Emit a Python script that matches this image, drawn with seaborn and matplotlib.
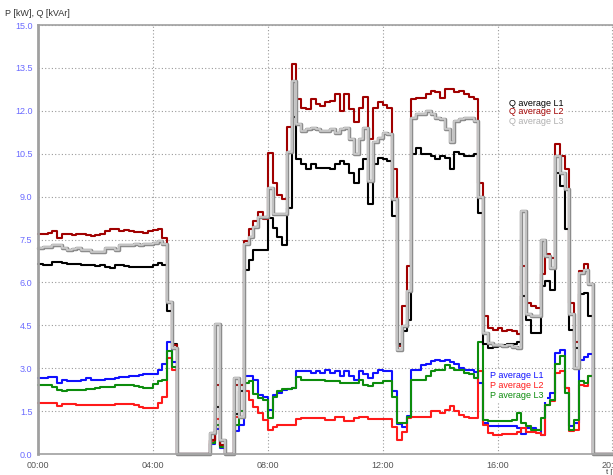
import numpy as np
import pandas as pd
import seaborn as sns
import matplotlib
matplotlib.use('Agg')
import matplotlib.pyplot as plt
import matplotlib.patheffects as pe
from matplotlib.patches import Rectangle


# 10-minute averages from 00:00, one value per interval
q_l1 = [6.63, 6.60, 6.60, 6.70, 6.73, 6.68, 6.65, 6.65, 6.65, 6.62, 6.60, 6.60,
        6.58, 6.60, 6.55, 6.50, 6.60, 6.60, 6.58, 6.55, 6.55, 6.55, 6.55, 6.55,
        6.60, 6.67, 6.62, 5.00, 3.86, 0, 0, 0, 0, 0, 0, 0,
        0.50, 1.65, 0.30, 0, 0, 1.40, 2.20, 6.45, 6.80, 7.15, 7.15, 7.15,
        8.25, 7.90, 7.60, 7.30, 8.60, 11.80, 10.30, 10.13, 9.95, 10.13, 10.00, 10.00,
        10.00, 9.95, 10.13, 10.25, 10.13, 9.84, 9.49, 9.95, 10.30, 8.73, 10.13, 10.36,
        10.30, 10.25, 8.32, 3.83, 4.30, 4.70, 10.48, 10.70, 10.48, 10.48, 10.42, 10.30,
        10.42, 10.35, 9.95, 10.55, 10.48, 10.42, 10.42, 10.48, 8.44, 3.83, 3.71, 3.75,
        3.80, 3.80, 3.85, 3.85, 3.90, 5.52, 4.70, 4.23, 4.23, 5.87, 6.04, 5.75,
        9.84, 9.37, 7.85, 4.35, 3.71, 5.58, 5.64, 4.82,
        0, 0, 0, 0, 0, 0, 0, 0]

q_l2 = [7.70, 7.70, 7.72, 7.80, 7.55, 7.68, 7.70, 7.65, 7.70, 7.68, 7.65, 7.62,
        7.65, 7.70, 7.80, 7.85, 7.85, 7.80, 7.82, 7.78, 7.75, 7.75, 7.72, 7.78,
        7.82, 7.85, 7.55, 5.30, 3.80, 0, 0, 0, 0, 0, 0, 0,
        0.50, 2.40, 0.30, 0, 0, 2.40, 2.40, 7.45, 7.85, 8.15, 8.45, 8.20,
        10.54, 9.46, 9.04, 8.90, 11.45, 13.65, 12.40, 12.10, 12.05, 12.40, 12.23, 12.17,
        12.30, 12.35, 12.58, 12.00, 12.58, 12.05, 11.60, 12.10, 12.50, 11.00, 12.10, 12.30,
        12.20, 12.10, 9.95, 3.77, 5.17, 6.57, 12.40, 12.46, 12.46, 12.58, 12.70, 12.64,
        12.45, 12.75, 12.75, 12.64, 12.70, 12.58, 12.50, 12.43, 9.49, 4.82, 4.41, 4.35,
        4.40, 4.30, 4.35, 4.30, 4.18, 6.57, 5.29, 5.17, 5.10, 6.28, 6.98, 6.86,
        10.83, 10.42, 9.95, 5.29, 3.90, 6.40, 6.65, 5.95,
        0, 0, 0, 0, 0, 0, 0, 0]

q_l3 = [7.22, 7.25, 7.25, 7.30, 7.30, 7.20, 7.15, 7.18, 7.20, 7.15, 7.15, 7.05,
        7.05, 7.08, 7.20, 7.20, 7.15, 7.30, 7.30, 7.32, 7.33, 7.30, 7.35, 7.35,
        7.38, 7.45, 7.35, 5.30, 3.70, 0, 0, 0, 0, 0, 0, 0,
        0.73, 4.53, 0.49, 0, 0, 2.65, 1.30, 7.35, 7.60, 7.95, 8.30, 8.30,
        9.30, 8.40, 8.38, 8.38, 10.55, 13.05, 11.53, 11.30, 11.35, 11.40, 11.35, 11.30,
        11.30, 11.35, 11.24, 11.38, 11.41, 11.00, 10.48, 11.00, 11.41, 9.55, 10.90, 11.06,
        11.24, 11.20, 8.90, 3.65, 4.47, 5.70, 11.76, 11.88, 11.90, 12.00, 11.90, 11.76,
        11.70, 11.35, 10.90, 11.65, 11.70, 11.76, 11.76, 11.65, 9.00, 4.23, 3.88, 3.80,
        3.80, 3.78, 3.80, 3.75, 3.70, 8.49, 4.88, 4.82, 4.82, 7.50, 6.92, 6.51,
        10.42, 9.84, 9.25, 4.88, 3.00, 6.34, 6.45, 5.93,
        0, 0, 0, 0, 0, 0, 0, 0]

p_l1 = [2.65, 2.65, 2.70, 2.70, 2.50, 2.60, 2.55, 2.55, 2.55, 2.60, 2.65, 2.58,
        2.58, 2.60, 2.62, 2.62, 2.65, 2.68, 2.70, 2.74, 2.74, 2.75, 2.80, 2.78,
        2.78, 2.95, 3.13, 3.90, 3.20, 0, 0, 0, 0, 0, 0, 0,
        0.35, 0.87, 0.20, 0, 0, 0.80, 1.00, 2.72, 2.72, 2.60, 2.05, 2.00,
        1.55, 2.07, 2.13, 2.25, 2.27, 2.30, 2.89, 2.89, 2.89, 2.84, 2.89, 2.82,
        2.95, 2.82, 2.89, 2.72, 2.89, 2.72, 2.60, 2.89, 2.80, 2.66, 2.84, 2.95,
        2.89, 2.89, 2.20, 1.05, 0.95, 1.32, 2.95, 2.95, 3.10, 3.13, 3.25, 3.30,
        3.24, 3.30, 3.22, 3.13, 3.02, 2.95, 2.95, 2.86, 2.50, 1.10, 0.97, 0.97,
        0.97, 0.97, 0.97, 0.97, 0.90, 0.70, 0.91, 0.90, 0.85, 0.68, 1.96, 2.14,
        3.54, 3.65, 2.30, 0.97, 1.09, 3.30, 3.40, 3.48,
        0, 0, 0, 0, 0, 0, 0, 0]

p_l2 = [1.78, 1.80, 1.80, 1.80, 1.68, 1.75, 1.75, 1.75, 1.70, 1.72, 1.70, 1.70,
        1.70, 1.72, 1.70, 1.70, 1.75, 1.75, 1.75, 1.75, 1.72, 1.65, 1.62, 1.62,
        1.62, 1.80, 2.00, 3.35, 2.95, 0, 0, 0, 0, 0, 0, 0,
        0.45, 1.22, 0.30, 0, 0, 1.30, 1.30, 2.19, 1.90, 1.66, 1.43, 1.20,
        0.85, 0.96, 1.00, 1.02, 1.02, 1.00, 1.24, 1.25, 1.25, 1.25, 1.25, 1.25,
        1.19, 1.19, 1.31, 1.31, 1.14, 1.14, 1.25, 1.31, 1.31, 1.22, 1.22, 1.22,
        1.22, 1.22, 0.96, 0.49, 0.78, 1.25, 1.31, 1.31, 1.31, 1.31, 1.49, 1.49,
        1.43, 1.55, 1.67, 1.49, 1.38, 1.30, 1.26, 1.26, 2.90, 1.00, 0.73, 0.67,
        0.67, 0.70, 0.70, 0.70, 0.78, 0.90, 0.78, 0.78, 0.75, 0.68, 1.73, 1.84,
        2.84, 2.90, 2.30, 0.80, 0.85, 2.43, 2.37, 2.72,
        0, 0, 0, 0, 0, 0, 0, 0]

p_l3 = [2.42, 2.42, 2.40, 2.35, 2.25, 2.22, 2.25, 2.25, 2.25, 2.25, 2.28, 2.28,
        2.30, 2.35, 2.35, 2.35, 2.40, 2.40, 2.40, 2.40, 2.38, 2.35, 2.30, 2.30,
        2.45, 2.55, 2.60, 3.60, 3.05, 0, 0, 0, 0, 0, 0, 0,
        0.40, 1.00, 0.25, 0, 0, 1.00, 1.50, 2.48, 2.55, 2.10, 1.96, 1.90,
        1.25, 2.00, 2.19, 2.27, 2.27, 2.30, 2.70, 2.60, 2.60, 2.60, 2.60, 2.60,
        2.54, 2.54, 2.54, 2.48, 2.48, 2.48, 2.48, 2.60, 2.43, 2.39, 2.50, 2.50,
        2.55, 2.55, 2.00, 1.08, 1.08, 1.31, 2.60, 2.60, 2.60, 2.72, 2.90, 2.95,
        2.95, 3.10, 3.00, 2.95, 2.95, 2.84, 2.78, 2.65, 3.90, 1.20, 1.14, 1.14,
        1.14, 1.17, 1.14, 1.20, 1.45, 1.09, 0.97, 0.85, 0.85, 1.26, 1.73, 1.90,
        3.13, 3.42, 2.14, 0.85, 1.20, 2.54, 2.49, 2.72,
        0, 0, 0, 0, 0, 0, 0, 0]

hour_ticks = [0, 4, 8, 12, 16, 20]
hour_labels = ['00:00', '04:00', '08:00', '12:00', '16:00', '20:00']
y_ticks = [0.0, 1.5, 3.0, 4.5, 6.0, 7.5, 9.0, 10.5, 12.0, 13.5, 15.0]

series = [
    ('P average L1', p_l1, '#1010ff'),
    ('P average L2', p_l2, '#ff1a1a'),
    ('P average L3', p_l3, '#0c8c0c'),
    ('Q average L1', q_l1, '#000000'),
    ('Q average L2', q_l2, '#a00000'),
    ('Q average L3', q_l3, '#cdcdcd'),
]

df = pd.DataFrame({name: vals for name, vals, _ in series})
df['t'] = np.arange(len(df)) * 10 / 60.0

sns.set_style('white')
plt.rcParams['font.family'] = ['Liberation Sans', 'DejaVu Sans']

W, H = 613, 475
fig = plt.figure(figsize=(W / 100, H / 100), dpi=100)
px_per_h = 28.72
x_max = 20.6
ax = fig.add_axes([38 / W, 21 / H, x_max * px_per_h / W, 429 / H])

for name, vals, color in series:
    kw = dict(lw=1.5)
    if name == 'Q average L3':
        kw = dict(lw=1.2, path_effects=[pe.Stroke(linewidth=2.5, foreground='#8c8c8c'), pe.Normal()])
    sns.lineplot(data=df, x='t', y=name, color=color, drawstyle='steps-post',
                 ax=ax, clip_on=False, estimator=None, **kw)

ax.set_xlim(0, x_max)
ax.set_ylim(0, 15)
ax.set_xticks(hour_ticks)
ax.set_xticklabels(hour_labels)
ax.set_yticks(y_ticks)
ax.set_yticklabels([f'{v:.1f}' for v in y_ticks])
ax.set_xlabel('')
ax.set_ylabel('')

ax.grid(True, color='#9a9a9a', linestyle=(0, (1, 2)), lw=0.8)
ax.tick_params(axis='y', labelcolor='#6b6bff', labelsize=6.5, length=2, pad=2, color='#a0a0a0')
ax.tick_params(axis='x', labelcolor='#555555', labelsize=6.5, length=0, pad=5)

for side in ['left', 'top', 'bottom']:
    ax.spines[side].set_color('#a0a0a0')
ax.spines['left'].set_linewidth(2.0)
ax.spines['top'].set_linewidth(1.2)
ax.spines['bottom'].set_linewidth(1.2)
ax.spines['right'].set_visible(False)

fig.text(5 / W, 1 - 14 / H, 'P [kW], Q [kVAr]', fontsize=6.5, color='#333333', va='center')
fig.text(606 / W, 1 - 472 / H, 't [h]', fontsize=5.5, color='#333333', va='center')

# inline legend labels on white patches (they hide the grid behind them)
for (x0, y0, w, h) in [(500, 97, 66, 30), (487, 370, 60, 32)]:
    fig.patches.append(Rectangle((x0 / W, 1 - (y0 + h) / H), w / W, h / H,
                                 transform=fig.transFigure, facecolor='white',
                                 edgecolor='none', zorder=5))
q_pos = [(509, 103), (509, 112), (509, 121)]
p_pos = [(490, 376), (490, 386), (490, 396)]
legend_colors = {'Q average L3': '#b0b0b0'}
for (name, _, color), (x, y) in zip(series[3:] + series[:3], q_pos + p_pos):
    fig.text(x / W, 1 - y / H, name, fontsize=6.5, va='center', zorder=6,
             color=legend_colors.get(name, color))

fig.savefig('out.png', dpi=100)
plt.close(fig)
